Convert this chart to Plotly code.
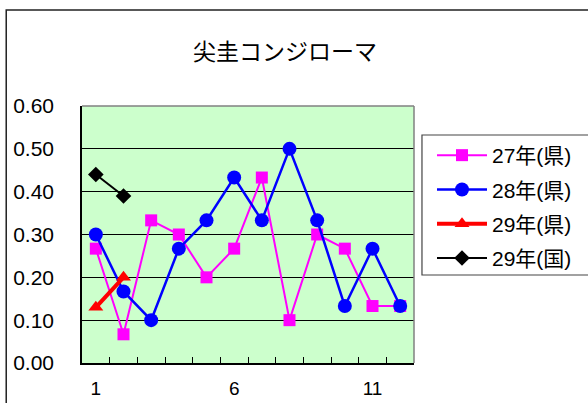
import plotly.graph_objects as go

x_cats = list(range(1, 13))
s27_ken = [0.267, 0.067, 0.333, 0.300, 0.200, 0.267, 0.433, 0.100, 0.300, 0.267, 0.133, 0.133]
s28_ken = [0.300, 0.167, 0.100, 0.267, 0.333, 0.433, 0.333, 0.500, 0.333, 0.133, 0.267, 0.133]
s29_ken = [0.130, 0.200]
s29_kuni = [0.440, 0.390]
names = ["27年(県)", "28年(県)", "29年(県)", "29年(国)"]
title_text = "尖圭コンジローマ"

FONT = "Liberation Sans, Arial, Noto Sans CJK JP, sans-serif"

fig = go.Figure()
fig.add_trace(go.Scatter(x=x_cats, y=s27_ken, name=names[0], mode="lines+markers",
                         line=dict(color="#FF00FF", width=2),
                         marker=dict(symbol="square", size=12, color="#FF00FF"),
                         legendgroup="a"))
fig.add_trace(go.Scatter(x=x_cats, y=s28_ken, name=names[1], mode="lines+markers",
                         line=dict(color="#0000FF", width=2.5),
                         marker=dict(symbol="circle", size=14, color="#0000FF"),
                         legendgroup="b"))
fig.add_trace(go.Scatter(x=x_cats[:2], y=s29_ken, name=names[2], mode="lines+markers",
                         line=dict(color="#FF0000", width=4),
                         marker=dict(symbol="triangle-up", size=13, color="#FF0000"),
                         legendgroup="c"))
fig.add_trace(go.Scatter(x=x_cats[:2], y=s29_kuni, name=names[3], mode="lines+markers",
                         line=dict(color="#000000", width=2),
                         marker=dict(symbol="diamond", size=12, color="#000000"),
                         legendgroup="d"))

L, R, T, B = 82, 415, 106, 363
W, H = 588, 403
pw, ph = R - L, B - T

def px(x):
    return (x - L) / pw

def py(y):
    return (B - y) / ph

fig.update_layout(
    width=W, height=H,
    margin=dict(l=L, r=W - R, t=T, b=H - B, pad=0),
    paper_bgcolor="white",
    plot_bgcolor="#CCFFCC",
    showlegend=True,
    legend=dict(x=px(432), y=py(135), xanchor="left", yanchor="top",
                font=dict(family=FONT, size=21, color="black"),
                bgcolor="rgba(0,0,0,0)", borderwidth=0,
                tracegroupgap=4, itemwidth=50),
    xaxis=dict(range=[0.5, 12.5], tickmode="array", tickvals=[1, 6, 11],
               ticktext=["1", "6", "11"], ticks="", showgrid=False,
               zeroline=False, showline=True, linecolor="black", linewidth=1.5,
               tickfont=dict(family=FONT, size=19, color="black"),
               ticklabelstandoff=7, automargin=False,
               minor=dict(tickmode="array", tickvals=[i + 0.5 for i in range(1, 12)],
                          ticks="inside", ticklen=6, tickcolor="black", tickwidth=1,
                          showgrid=False)),
    yaxis=dict(range=[0, 0.6], tickmode="array",
               tickvals=[0, 0.1, 0.2, 0.3, 0.4, 0.5, 0.6], tickformat=".2f",
               ticks="", showgrid=True, gridcolor="black", gridwidth=1,
               zeroline=False, showline=True, linecolor="black", linewidth=1.5,
               tickfont=dict(family=FONT, size=21, color="black"),
               ticklabelstandoff=22, automargin=False),
    shapes=[
        # outer chart frame
        dict(type="rect", xref="paper", yref="paper",
             x0=px(6), x1=px(600), y0=py(10), y1=py(420),
             line=dict(color="#222222", width=1.5), layer="below"),
        # plot-area top/right border
        dict(type="line", xref="paper", yref="paper", x0=0, x1=1, y0=1, y1=1,
             line=dict(color="#808080", width=1.5)),
        dict(type="line", xref="paper", yref="paper", x0=1, x1=1, y0=0, y1=1,
             line=dict(color="#808080", width=1.5)),
        # legend box
        dict(type="rect", xref="paper", yref="paper",
             x0=px(423), x1=px(600), y0=py(275), y1=py(135),
             line=dict(color="#444444", width=1.2)),
    ],
    annotations=[
        dict(text=title_text, xref="paper", yref="paper", x=px(285.5), y=py(50),
             xanchor="center", yanchor="middle", showarrow=False,
             font=dict(family="Noto Sans CJK JP, sans-serif", size=23, color="black")),
    ],
)

fig.write_html("out.html", config={"displayModeBar": False},
               post_script="document.body.style.margin='0';document.body.style.overflow='hidden';")
